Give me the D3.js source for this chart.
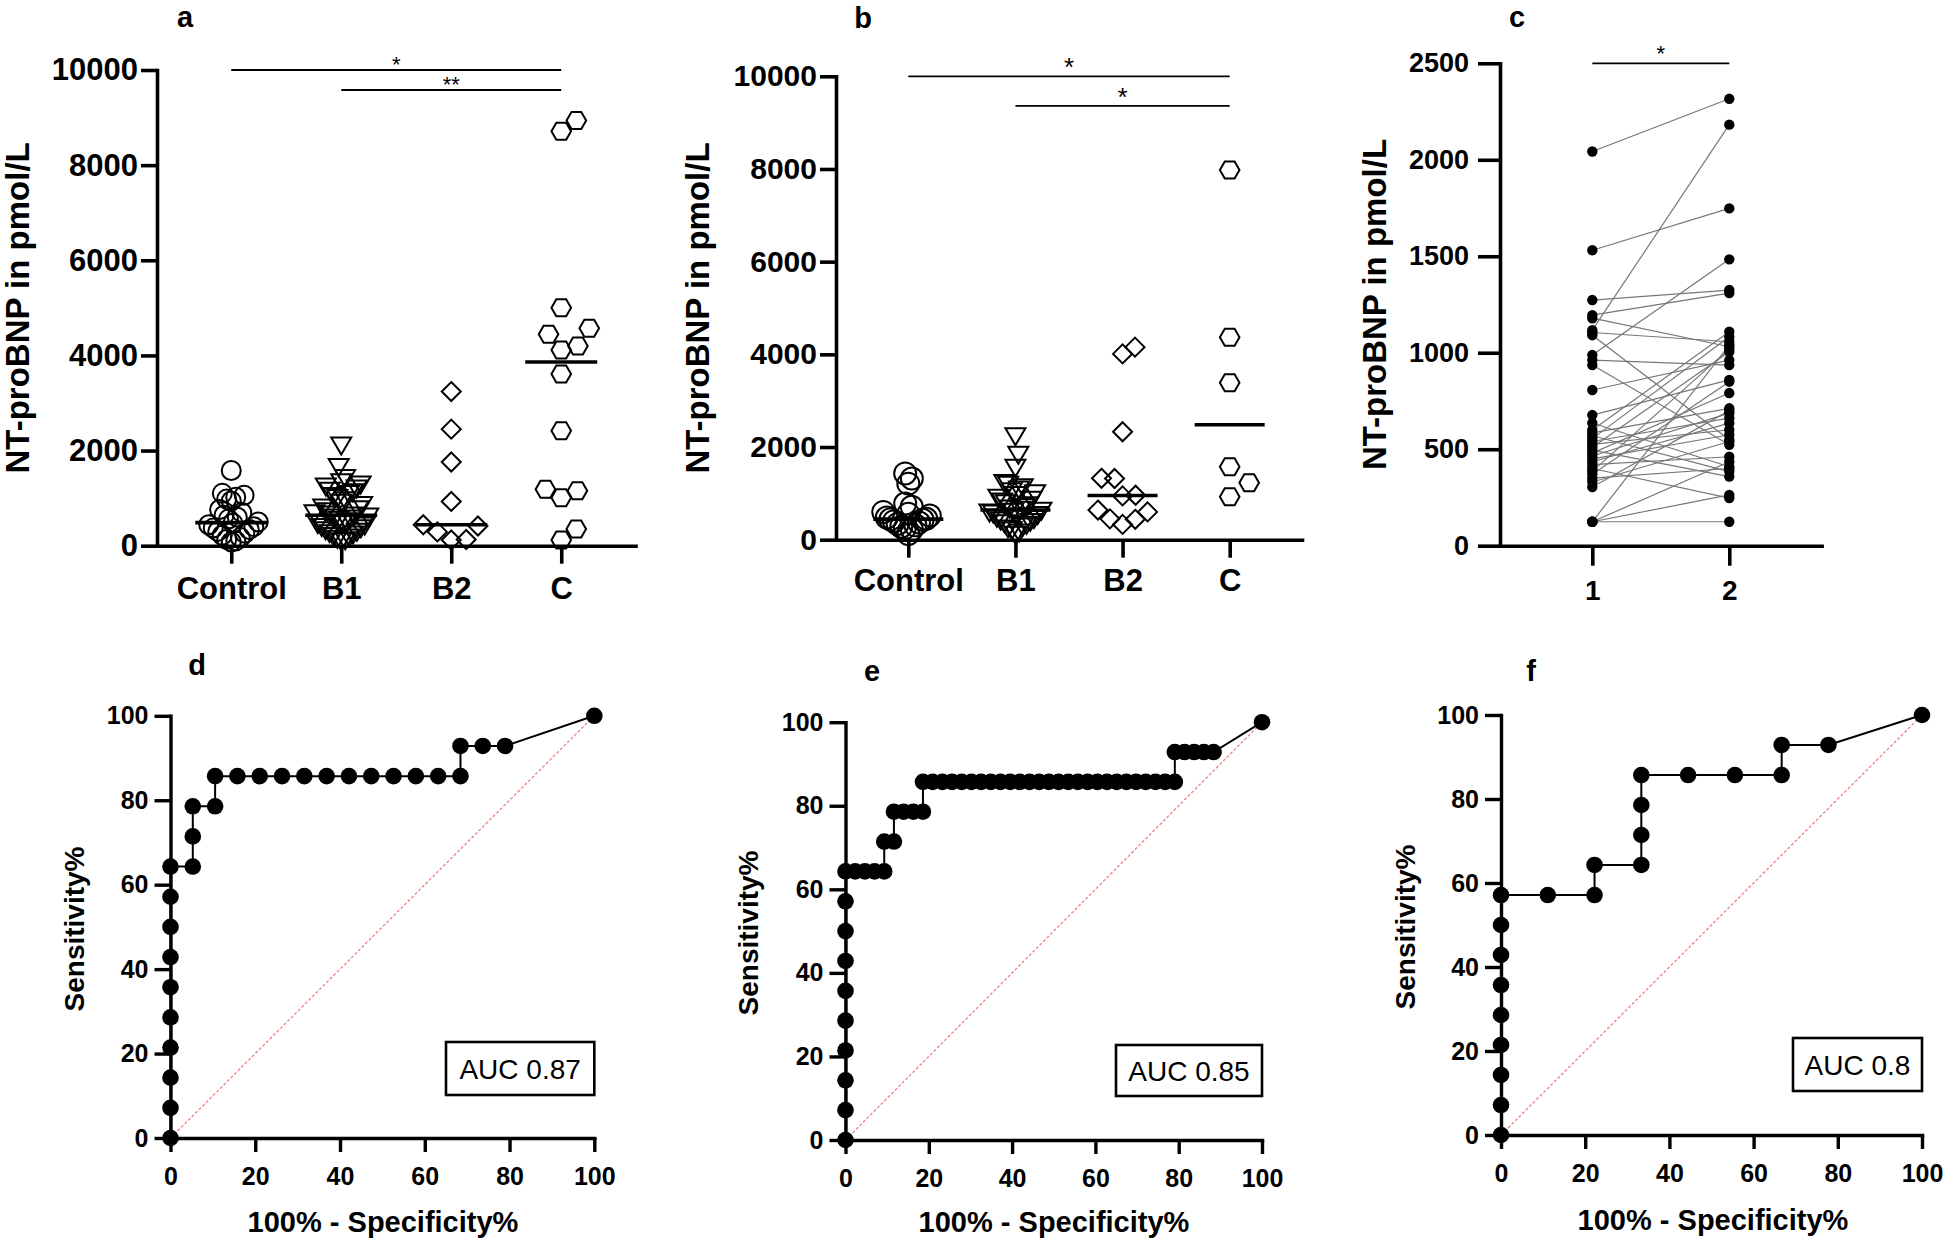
<!DOCTYPE html>
<html><head><meta charset="utf-8">
<script src="https://cdn.jsdelivr.net/npm/d3@7"></script>
<style>
body{margin:0;background:#fff}
</style></head><body>
<svg id="chart" width="1944" height="1241"></svg>
<script>
// ---------------- DATA ----------------
const groups = ["Control", "B1", "B2", "C"];
const scatterTicks = [0, 2000, 4000, 6000, 8000, 10000];

// panel a
const aControl = [1580,1100,1060,1020,980,940,760,700,640,600,560,500,470,440,400,370,340,300,260,220,170,130,100,80];
const aB1 = [2100,1650,1420,1330,1280,1240,1200,1150,1120,1080,1040,1000,950,900,850,800,760,720,680,650,630,610,590,570,540,510,480,450,420,390,360,320,290,260,230,200,170,140,110,90];
const aB2 = [3240,2450,1760,930,440,414,290,130,120];
const aC = [8937,8712,5004,4572,4447,4198,4115,3609,2418,1185,1156,1009,351,120];
const aSig = [{from:"Control", to:"C", level:10000, label:"*"}, {from:"B1", to:"C", level:9580, label:"**"}];

// panel b
const bControl = [1430,1320,1210,780,710,600,560,520,480,450,440,430,400,370,340,310,280,250,220,120];
const bB1 = [2230,1830,1550,1220,1180,1130,1080,1040,1000,960,900,860,820,780,740,700,670,640,620,600,580,560,530,500,470,440,410,380,350,320,280,240,200,150,100];
const bB2 = [4155,4010,2330,1325,1320,960,945,640,600,450,440,330];
const bC = [7978,4368,3388,1575,1230,928];
const bSig = [{from:"Control", to:"C", level:10000, label:"*"}, {from:"B1", to:"C", level:9360, label:"*"}];

// panel c (paired)
const cTimes = ["1", "2"];
const cTicks = [0, 500, 1000, 1500, 2000, 2500];
const cTime1 = [2043,1531,1273,1195,1179,1117,1105,1091,988,962,936,807,677,636,600,585,570,555,540,525,510,495,480,465,450,435,420,400,385,370,350,330,304,124,124,124,124];
const cTime2 = [2316,1748,1325,1309,1031,2182,1057,549,1484,936,523,962,859,409,1109,712,384,1083,661,601,1005,358,791,687,575,635,461,247,1020,850,400,540,700,124,263,435,1040];
const cSig = [{from:"1", to:"2", level:2500, label:"*"}];

// ROC panels
const rocTicks = [0, 20, 40, 60, 80, 100];
const dFpr  = [0,0,0,0,0,0,0,0,0,0, 5.26,5.26,5.26, 10.53,10.53, 15.79,21.05,26.32,31.58,36.84,42.11,47.37,52.63,57.89,63.16,68.42, 68.42,73.68,78.95, 100];
const dSens = [0,7.14,14.29,21.43,28.57,35.71,42.86,50,57.14,64.29, 64.29,71.43,78.57, 78.57,85.71, 85.71,85.71,85.71,85.71,85.71,85.71,85.71,85.71,85.71,85.71,85.71, 92.86,92.86,92.86, 100];
const dAuc = "AUC 0.87";

const eFpr  = [0,0,0,0,0,0,0,0,0,0, 2.33,4.65,6.98,9.30, 9.30,11.63, 11.63,13.95,16.28,18.60,
  18.60,20.93,23.26,25.58,27.91,30.23,32.56,34.88,37.21,39.53,41.86,44.19,46.51,48.84,51.16,53.49,55.81,58.14,60.47,62.79,65.12,67.44,69.77,72.09,74.42,76.74,79.07,
  79.07,81.40,83.72,86.05,88.37, 100];
const eSens = [0,7.14,14.29,21.43,28.57,35.71,42.86,50,57.14,64.29, 64.29,64.29,64.29,64.29, 71.43,71.43, 78.57,78.57,78.57,78.57,
  85.71,85.71,85.71,85.71,85.71,85.71,85.71,85.71,85.71,85.71,85.71,85.71,85.71,85.71,85.71,85.71,85.71,85.71,85.71,85.71,85.71,85.71,85.71,85.71,85.71,85.71,85.71,
  92.86,92.86,92.86,92.86,92.86, 100];
const eAuc = "AUC 0.85";

const fFpr  = [0,0,0,0,0,0,0,0,0, 11.11, 22.22,22.22, 33.33,33.33,33.33,33.33, 44.44,55.56,66.67, 66.67,77.78, 100];
const fSens = [0,7.14,14.29,21.43,28.57,35.71,42.86,50,57.14, 57.14, 57.14,64.29, 64.29,71.43,78.57,85.71, 85.71,85.71,85.71, 92.86,92.86, 100];
const fAuc = "AUC 0.8";

// ---------------- DRAWING ----------------
const FONT = 'Arial, "Liberation Sans", Helvetica, sans-serif';
const svg = d3.select("#chart").attr("font-family", FONT);
svg.append("rect").attr("width", 1944).attr("height", 1241).attr("fill", "#fff");

function styleAxis(sel, fs, sw) {
  sel.attr("font-family", FONT).attr("font-size", fs).attr("font-weight", "bold");
  sel.select(".domain").attr("stroke", "#000").attr("stroke-width", sw).attr("stroke-linecap", "square");
  sel.selectAll(".tick line").attr("stroke", "#000").attr("stroke-width", sw);
  sel.selectAll(".tick text").attr("fill", "#000");
}

const shapeFns = [
  r => `M${r},0A${r},${r} 0 1,1 ${-r},0A${r},${r} 0 1,1 ${r},0Z`,               // circle
  () => `M-10,-8.2L10,-8.2L0,8.8Z`,                                              // triangle down
  () => `M0,-9.5L9.5,0L0,9.5L-9.5,0Z`,                                           // diamond
  () => { const r = 9.8, h = r * 0.866; return `M${r},0L${r/2},${h}L${-r/2},${h}L${-r},0L${-r/2},${-h}L${r/2},${-h}Z`; } // hexagon
];

function swarm(values, y, D, maxSpread) {
  const items = values.map(v => ({ v, y: y(v) })).sort((a, b) => b.y - a.y);
  const placed = [];
  for (const it of items) {
    const blocked = [];
    for (const p of placed) {
      const dy = Math.abs(p.y - it.y);
      if (dy < D) { const dx = Math.sqrt(D * D - dy * dy); blocked.push([p.x - dx, p.x + dx]); }
    }
    const cands = [0];
    blocked.forEach(b => cands.push(b[0], b[1]));
    cands.sort((a, b) => (Math.abs(a) - Math.abs(b)) || (b - a));
    let x = 0;
    for (const c of cands) {
      if (blocked.every(b => c <= b[0] + 1e-6 || c >= b[1] - 1e-6)) { x = c; break; }
    }
    it.x = x;
    placed.push(it);
  }
  const m = d3.max(placed, d => Math.abs(d.x)) || 0;
  if (m > maxSpread) placed.forEach(d => d.x *= maxSpread / m);
  return placed;
}

function scatterPanel(L, data, sigs) {
  const x = d3.scalePoint().domain(groups).range([L.x0, L.x1]).padding(0.675);
  const y = d3.scaleLinear().domain([0, 10000]).range([L.yBot, L.yTop]);
  const g = svg.append("g");

  sigs.forEach(s => {
    g.append("line").attr("x1", x(s.from)).attr("x2", x(s.to))
      .attr("y1", y(s.level)).attr("y2", y(s.level)).attr("stroke", "#000").attr("stroke-width", 1.8);
    g.append("text").attr("x", (x(s.from) + x(s.to)) / 2).attr("y", y(s.level) + L.starDy)
      .attr("text-anchor", "middle").attr("font-size", L.starSize).attr("fill", "#000").text(s.label);
  });

  groups.forEach((grp, gi) => {
    const vals = data[gi];
    const pts = swarm(vals, y, L.collide[gi], L.spread[gi]);
    g.append("g").selectAll("path").data(pts).join("path")
      .attr("d", shapeFns[gi](L.circleR))
      .attr("transform", d => `translate(${x(grp) + d.x},${d.y})`)
      .attr("fill", "none").attr("stroke", "#000").attr("stroke-width", 2);
    const med = d3.median(vals);
    g.append("line").attr("x1", x(grp) - L.medHalf).attr("x2", x(grp) + L.medHalf)
      .attr("y1", y(med)).attr("y2", y(med)).attr("stroke", "#000").attr("stroke-width", 3.6);
  });

  g.append("g").attr("transform", `translate(${L.x0},0)`)
    .call(d3.axisLeft(y).tickValues(scatterTicks).tickSize(16).tickPadding(3).tickSizeOuter(0).tickFormat(d3.format("d")))
    .call(s => styleAxis(s, L.tickFs, 3.6));
  g.append("g").attr("transform", `translate(0,${L.yBot})`)
    .call(d3.axisBottom(x).tickSize(18).tickPadding(L.xPad).tickSizeOuter(0))
    .call(s => styleAxis(s, L.catFs, 3.6));

  g.append("text").attr("transform", `translate(${L.titleX},${(L.yTop + L.yBot) / 2 + 0})rotate(-90)`)
    .attr("text-anchor", "middle").attr("dominant-baseline", "central")
    .attr("font-size", 33).attr("font-weight", "bold").attr("fill", "#000").text("NT-proBNP in pmol/L");
  g.append("text").attr("x", L.labX).attr("y", L.labY).attr("text-anchor", "middle")
    .attr("font-size", 29).attr("font-weight", "bold").attr("fill", "#000").text(L.letter);
}

scatterPanel({x0:157, x1:635.5, yTop:70, yBot:545.7, starDy:2, starSize:22, circleR:9.5,
  collide:[20,20,22,24], spread:[27,27,28,28], medHalf:36, tickFs:31, catFs:31, xPad:13,
  titleX:17, labX:185, labY:27, letter:"a"}, [aControl, aB1, aB2, aC], aSig);

scatterPanel({x0:836, x1:1302, yTop:76.3, yBot:539.7, starDy:0, starSize:26, circleR:11,
  collide:[20,20,22,24], spread:[25,26,25,27], medHalf:35, tickFs:30, catFs:31, xPad:11,
  titleX:697, labX:863, labY:28, letter:"b"}, [bControl, bB1, bB2, bC], bSig);

// panel c
(function () {
  const L = {x0:1500, x1:1821.6, yTop:63.3, yBot:545.7};
  const x = d3.scalePoint().domain(cTimes).range([L.x0, L.x1]).padding(0.674);
  const y = d3.scaleLinear().domain([0, 2500]).range([L.yBot, L.yTop]);
  const g = svg.append("g");
  cSig.forEach(s => {
    g.append("line").attr("x1", x(s.from)).attr("x2", x(s.to)).attr("y1", y(s.level)).attr("y2", y(s.level))
      .attr("stroke", "#000").attr("stroke-width", 1.8);
    g.append("text").attr("x", (x(s.from) + x(s.to)) / 2).attr("y", y(s.level) - 2)
      .attr("text-anchor", "middle").attr("font-size", 22).attr("fill", "#000").text(s.label);
  });
  const pairs = cTime1.map((v, i) => [v, cTime2[i]]);
  g.append("g").selectAll("line").data(pairs).join("line")
    .attr("x1", x("1")).attr("x2", x("2")).attr("y1", d => y(d[0])).attr("y2", d => y(d[1]))
    .attr("stroke", "#777").attr("stroke-width", 1.2);
  g.append("g").selectAll("circle").data(cTime1).join("circle")
    .attr("cx", x("1")).attr("cy", d => y(d)).attr("r", 5.2).attr("fill", "#000");
  g.append("g").selectAll("circle").data(cTime2).join("circle")
    .attr("cx", x("2")).attr("cy", d => y(d)).attr("r", 5.2).attr("fill", "#000");
  g.append("g").attr("transform", `translate(${L.x0},0)`)
    .call(d3.axisLeft(y).tickValues(cTicks).tickSize(22).tickPadding(9).tickSizeOuter(0).tickFormat(d3.format("d")))
    .call(s => styleAxis(s, 27, 3.6));
  g.append("g").attr("transform", `translate(0,${L.yBot})`)
    .call(d3.axisBottom(x).tickSize(20).tickPadding(14).tickSizeOuter(0))
    .call(s => styleAxis(s, 28, 3.6));
  g.append("text").attr("transform", `translate(1374,${(L.yTop + L.yBot) / 2})rotate(-90)`)
    .attr("text-anchor", "middle").attr("dominant-baseline", "central")
    .attr("font-size", 33).attr("font-weight", "bold").attr("fill", "#000").text("NT-proBNP in pmol/L");
  g.append("text").attr("x", 1517).attr("y", 27).attr("text-anchor", "middle")
    .attr("font-size", 29).attr("font-weight", "bold").attr("fill", "#000").text("c");
})();

function rocPanel(L, fpr, sens, aucLabel) {
  const x = d3.scaleLinear().domain([0, 100]).range([L.x0, L.x1]);
  const y = d3.scaleLinear().domain([0, 100]).range([L.y0, L.y1]);
  const g = svg.append("g");
  g.append("line").attr("x1", x(0)).attr("y1", y(0)).attr("x2", x(100)).attr("y2", y(100))
    .attr("stroke", "#f08080").attr("stroke-width", 1.3).attr("stroke-dasharray", "3,2");
  g.append("g").attr("transform", `translate(0,${L.y0})`)
    .call(d3.axisBottom(x).tickValues(rocTicks).tickSize(14).tickPadding(15).tickSizeOuter(0))
    .call(s => styleAxis(s, 25, 3.4));
  g.append("g").attr("transform", `translate(${L.x0},0)`)
    .call(d3.axisLeft(y).tickValues(rocTicks).tickSize(16).tickPadding(6).tickSizeOuter(0))
    .call(s => styleAxis(s, 25, 3.4));
  const pts = fpr.map((f, i) => [f, sens[i]]);
  g.append("path").attr("d", d3.line().x(d => x(d[0])).y(d => y(d[1]))(pts))
    .attr("fill", "none").attr("stroke", "#000").attr("stroke-width", 2);
  g.append("g").selectAll("circle").data(pts).join("circle")
    .attr("cx", d => x(d[0])).attr("cy", d => y(d[1])).attr("r", 8.3).attr("fill", "#000");
  g.append("rect").attr("x", L.boxX).attr("y", L.boxY).attr("width", x(100) - L.boxX).attr("height", L.boxH)
    .attr("fill", "#fff").attr("stroke", "#000").attr("stroke-width", 2.6);
  g.append("text").attr("x", (L.boxX + x(100)) / 2).attr("y", L.boxY + L.boxH / 2 + 10)
    .attr("text-anchor", "middle").attr("font-size", 28).attr("fill", "#000").text(aucLabel);
  g.append("text").attr("transform", `translate(${L.ytX},${L.ytY})rotate(-90)`)
    .attr("text-anchor", "middle").attr("dominant-baseline", "central")
    .attr("font-size", 28).attr("font-weight", "bold").attr("fill", "#000").text("Sensitivity%");
  g.append("text").attr("x", L.xtX).attr("y", L.xtY).attr("text-anchor", "middle")
    .attr("font-size", 29).attr("font-weight", "bold").attr("fill", "#000").text("100% - Specificity%");
  g.append("text").attr("x", L.labX).attr("y", L.labY).attr("text-anchor", "middle")
    .attr("font-size", 29).attr("font-weight", "bold").attr("fill", "#000").text(L.letter);
}

rocPanel({x0:170.5, x1:594.3, y0:1138, y1:715.8, boxX:446, boxY:1042, boxH:53,
  ytX:74, ytY:929, xtX:383, xtY:1232, labX:197, labY:675, letter:"d"}, dFpr, dSens, dAuc);
rocPanel({x0:845.5, x1:1262, y0:1140, y1:722.2, boxX:1116, boxY:1045, boxH:51,
  ytX:748, ytY:933, xtX:1054, xtY:1232, labX:872, labY:681, letter:"e"}, eFpr, eSens, eAuc);
rocPanel({x0:1501, x1:1922, y0:1135, y1:715, boxX:1793, boxY:1038, boxH:53,
  ytX:1405, ytY:927, xtX:1713, xtY:1230, labX:1531, labY:681, letter:"f"}, fFpr, fSens, fAuc);
</script>
</body></html>
